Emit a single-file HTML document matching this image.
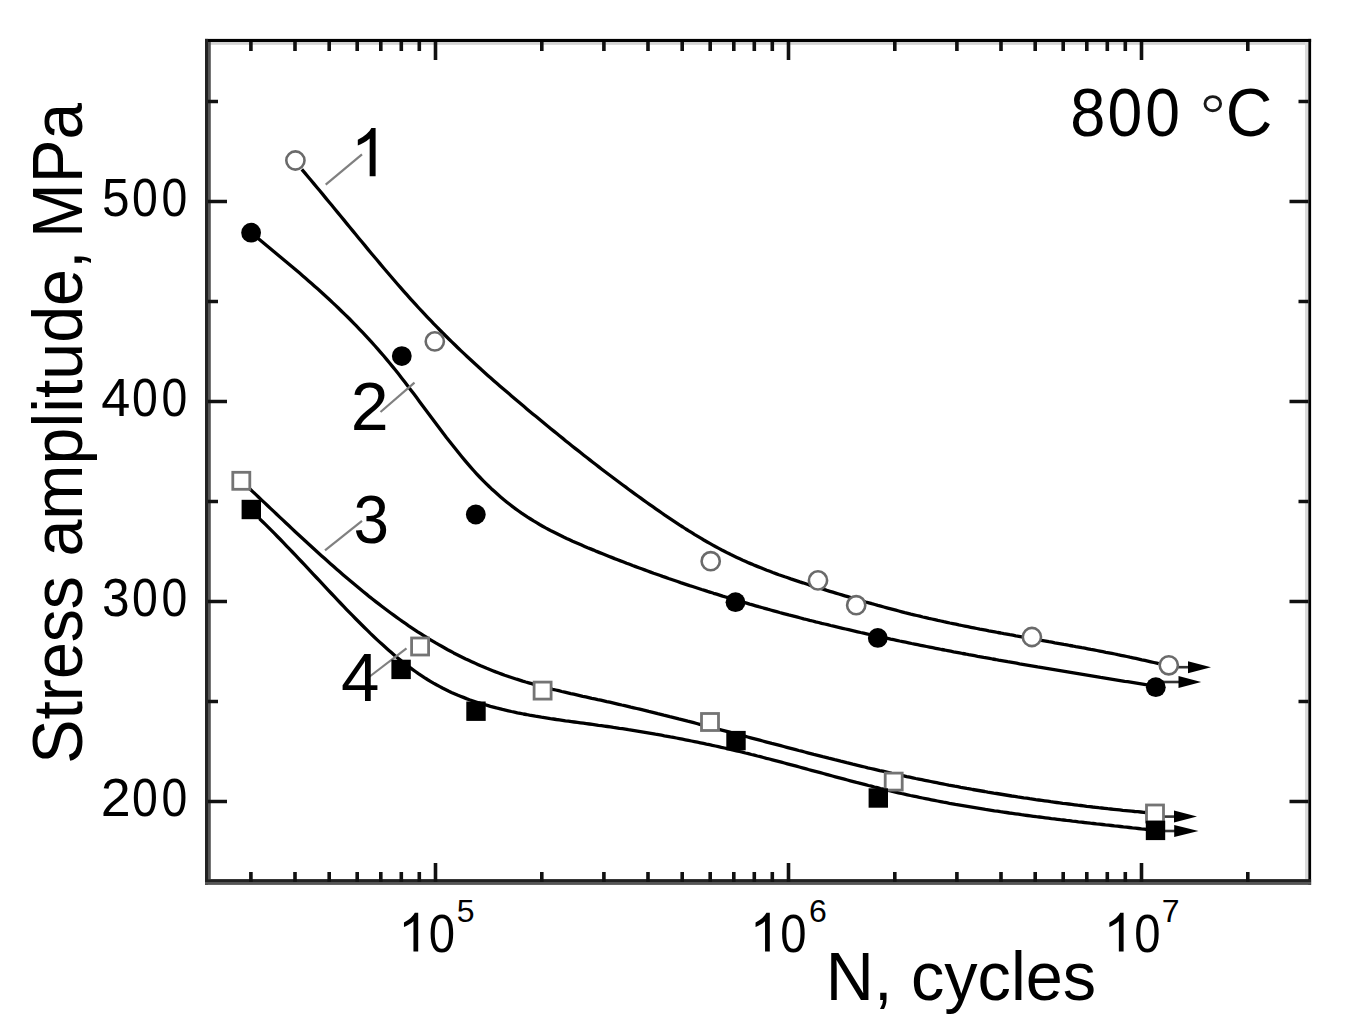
<!DOCTYPE html><html><head><meta charset="utf-8"><style>html,body{margin:0;padding:0;background:#fff;overflow:hidden;}svg{display:block;} text{font-family:"Liberation Sans",sans-serif;fill:#000;}</style></head><body>
<svg width="1358" height="1033" viewBox="0 0 1358 1033">
<rect width="1358" height="1033" fill="#fff"/>
<rect x="205" y="38.9" width="1106.1" height="3.1" fill="#000"/>
<rect x="208" y="42" width="1097.0" height="2.8" fill="#d2d2d2"/>
<rect x="205" y="38.9" width="3" height="846.0" fill="#222"/>
<rect x="208" y="42" width="2.8" height="837.1" fill="#555"/>
<rect x="1308.2" y="38.9" width="2.9" height="846.0" fill="#000"/>
<rect x="1305" y="42" width="3.2" height="837.1" fill="#dadada"/>
<rect x="205" y="879.1" width="1106.1" height="2.9" fill="#222"/>
<rect x="205" y="882" width="1106.1" height="2.9" fill="#555"/>
<path d="M208.0,801.5H227.0M1308.5,801.5H1289.5M208.0,701.5H218.0M1308.5,701.5H1298.5M208.0,601.5H227.0M1308.5,601.5H1289.5M208.0,501.5H218.0M1308.5,501.5H1298.5M208.0,401.5H227.0M1308.5,401.5H1289.5M208.0,301.5H218.0M1308.5,301.5H1298.5M208.0,201.5H227.0M1308.5,201.5H1289.5M208.0,101.5H218.0M1308.5,101.5H1298.5M250.9,882.0V872.0M250.9,42.0V51.0M295.0,882.0V872.0M295.0,42.0V51.0M329.2,882.0V872.0M329.2,42.0V51.0M357.2,882.0V872.0M357.2,42.0V51.0M380.8,882.0V872.0M380.8,42.0V51.0M401.3,882.0V872.0M401.3,42.0V51.0M419.3,882.0V872.0M419.3,42.0V51.0M435.5,882.0V863.0M435.5,42.0V60.0M541.8,882.0V872.0M541.8,42.0V51.0M603.9,882.0V872.0M603.9,42.0V51.0M648.0,882.0V872.0M648.0,42.0V51.0M682.2,882.0V872.0M682.2,42.0V51.0M710.2,882.0V872.0M710.2,42.0V51.0M733.8,882.0V872.0M733.8,42.0V51.0M754.3,882.0V872.0M754.3,42.0V51.0M772.3,882.0V872.0M772.3,42.0V51.0M788.5,882.0V863.0M788.5,42.0V60.0M894.8,882.0V872.0M894.8,42.0V51.0M956.9,882.0V872.0M956.9,42.0V51.0M1001.0,882.0V872.0M1001.0,42.0V51.0M1035.2,882.0V872.0M1035.2,42.0V51.0M1063.2,882.0V872.0M1063.2,42.0V51.0M1086.8,882.0V872.0M1086.8,42.0V51.0M1107.3,882.0V872.0M1107.3,42.0V51.0M1125.3,882.0V872.0M1125.3,42.0V51.0M1141.5,882.0V863.0M1141.5,42.0V60.0M1247.8,882.0V872.0M1247.8,42.0V51.0" stroke="#111" stroke-width="3.6" fill="none"/>
<path d="M301.8,169.4 L304.8,172.9 L307.8,176.5 L310.8,180.0 L313.8,183.6 L316.8,187.2 L319.8,190.8 L322.8,194.4 L325.8,198.1 L328.8,201.7 L331.8,205.3 L334.8,209.0 L337.8,212.6 L340.8,216.3 L343.8,219.9 L346.8,223.6 L349.8,227.2 L352.8,230.9 L355.8,234.5 L358.8,238.2 L361.8,241.8 L364.8,245.4 L367.8,249.1 L370.8,252.7 L373.8,256.3 L376.8,259.8 L379.8,263.4 L382.8,267.0 L385.8,270.5 L388.8,274.0 L391.8,277.5 L394.8,281.0 L397.8,284.5 L400.8,287.9 L403.8,291.3 L406.8,294.7 L409.8,298.1 L412.8,301.4 L415.8,304.7 L418.8,308.0 L421.8,311.2 L424.8,314.4 L427.8,317.6 L430.8,320.7 L433.8,323.9 L436.8,326.9 L439.8,330.0 L442.8,333.0 L445.8,336.0 L448.8,339.0 L451.8,341.9 L454.8,344.8 L457.8,347.7 L460.8,350.6 L463.8,353.4 L466.8,356.2 L469.8,359.0 L472.8,361.8 L475.8,364.5 L478.8,367.3 L481.8,370.0 L484.8,372.7 L487.8,375.4 L490.8,378.0 L493.8,380.7 L496.8,383.3 L499.8,385.9 L502.8,388.5 L505.8,391.1 L508.8,393.6 L511.8,396.2 L514.8,398.8 L517.8,401.3 L520.8,403.8 L523.8,406.3 L526.8,408.9 L529.8,411.4 L532.8,413.9 L535.8,416.3 L538.8,418.8 L541.8,421.3 L544.8,423.8 L547.8,426.2 L550.8,428.7 L553.8,431.1 L556.8,433.6 L559.8,436.0 L562.8,438.4 L565.8,440.9 L568.8,443.3 L571.8,445.7 L574.8,448.1 L577.8,450.4 L580.8,452.8 L583.8,455.2 L586.8,457.5 L589.8,459.9 L592.8,462.2 L595.8,464.5 L598.8,466.9 L601.8,469.2 L604.8,471.5 L607.8,473.8 L610.8,476.0 L613.8,478.3 L616.8,480.5 L619.8,482.8 L622.8,485.0 L625.8,487.2 L628.8,489.5 L631.8,491.7 L634.8,493.8 L637.8,496.0 L640.8,498.2 L643.8,500.3 L646.8,502.5 L649.8,504.6 L652.8,506.7 L655.8,508.8 L658.8,510.9 L661.8,513.0 L664.8,515.1 L667.8,517.1 L670.8,519.1 L673.8,521.1 L676.8,523.1 L679.8,525.1 L682.8,527.0 L685.8,529.0 L688.8,530.9 L691.8,532.7 L694.8,534.6 L697.8,536.4 L700.8,538.2 L703.8,540.0 L706.8,541.7 L709.8,543.4 L712.8,545.1 L715.8,546.8 L718.8,548.4 L721.8,550.0 L724.8,551.5 L727.8,553.1 L730.8,554.6 L733.8,556.0 L736.8,557.4 L739.8,558.8 L742.8,560.2 L745.8,561.5 L748.8,562.9 L751.8,564.1 L754.8,565.4 L757.8,566.6 L760.8,567.8 L763.8,569.0 L766.8,570.2 L769.8,571.3 L772.8,572.5 L775.8,573.6 L778.8,574.7 L781.8,575.7 L784.8,576.8 L787.8,577.8 L790.8,578.9 L793.8,579.9 L796.8,580.9 L799.8,581.9 L802.8,582.8 L805.8,583.8 L808.8,584.8 L811.8,585.7 L814.8,586.6 L817.8,587.6 L820.8,588.5 L823.8,589.4 L826.8,590.4 L829.8,591.3 L832.8,592.2 L835.8,593.1 L838.8,594.0 L841.8,594.9 L844.8,595.8 L847.8,596.7 L850.8,597.6 L853.8,598.5 L856.8,599.4 L859.8,600.2 L862.8,601.1 L865.8,602.0 L868.8,602.8 L871.8,603.7 L874.8,604.5 L877.8,605.4 L880.8,606.2 L883.8,607.0 L886.8,607.8 L889.8,608.6 L892.8,609.4 L895.8,610.2 L898.8,611.0 L901.8,611.8 L904.8,612.6 L907.8,613.3 L910.8,614.1 L913.8,614.8 L916.8,615.5 L919.8,616.2 L922.8,617.0 L925.8,617.7 L928.8,618.4 L931.8,619.0 L934.8,619.7 L937.8,620.4 L940.8,621.0 L943.8,621.7 L946.8,622.3 L949.8,623.0 L952.8,623.6 L955.8,624.2 L958.8,624.9 L961.8,625.5 L964.8,626.1 L967.8,626.7 L970.8,627.3 L973.8,627.9 L976.8,628.5 L979.8,629.1 L982.8,629.6 L985.8,630.2 L988.8,630.8 L991.8,631.3 L994.8,631.9 L997.8,632.5 L1000.8,633.0 L1003.8,633.6 L1006.8,634.1 L1009.8,634.7 L1012.8,635.2 L1015.8,635.8 L1018.8,636.3 L1021.8,636.8 L1024.8,637.4 L1027.8,637.9 L1030.8,638.5 L1033.8,639.0 L1036.8,639.5 L1039.8,640.1 L1042.8,640.6 L1045.8,641.1 L1048.8,641.7 L1051.8,642.2 L1054.8,642.8 L1057.8,643.3 L1060.8,643.8 L1063.8,644.4 L1066.8,644.9 L1069.8,645.5 L1072.8,646.0 L1075.8,646.6 L1078.8,647.1 L1081.8,647.7 L1084.8,648.2 L1087.8,648.8 L1090.8,649.4 L1093.8,649.9 L1096.8,650.5 L1099.8,651.1 L1102.8,651.7 L1105.8,652.3 L1108.8,652.8 L1111.8,653.4 L1114.8,654.0 L1117.8,654.7 L1120.8,655.3 L1123.8,655.9 L1126.8,656.5 L1129.8,657.2 L1132.8,657.8 L1135.8,658.4 L1138.8,659.1 L1141.8,659.8 L1144.8,660.4 L1147.8,661.1 L1150.8,661.8 L1153.8,662.5 L1156.8,663.2 L1158.7,663.6" fill="none" stroke="#000" stroke-width="3.3" stroke-linejoin="round"/>
<path d="M251.6,233.1 L254.6,235.6 L257.6,238.1 L260.6,240.6 L263.6,243.1 L266.6,245.5 L269.6,248.0 L272.6,250.5 L275.6,253.0 L278.6,255.5 L281.6,258.0 L284.6,260.5 L287.6,263.0 L290.6,265.5 L293.6,268.0 L296.6,270.6 L299.6,273.1 L302.6,275.7 L305.6,278.3 L308.6,280.9 L311.6,283.5 L314.6,286.2 L317.6,288.8 L320.6,291.5 L323.6,294.3 L326.6,297.0 L329.6,299.8 L332.6,302.6 L335.6,305.4 L338.6,308.3 L341.6,311.2 L344.6,314.1 L347.6,317.0 L350.6,320.0 L353.6,323.1 L356.6,326.2 L359.6,329.3 L362.6,332.4 L365.6,335.6 L368.6,338.9 L371.6,342.2 L374.6,345.5 L377.6,348.9 L380.6,352.3 L383.6,355.8 L386.6,359.4 L389.6,363.0 L392.6,366.6 L395.6,370.3 L398.6,374.1 L401.6,377.9 L404.6,381.8 L407.6,385.7 L410.6,389.7 L413.6,393.6 L416.6,397.6 L419.6,401.7 L422.6,405.7 L425.6,409.7 L428.6,413.8 L431.6,417.8 L434.6,421.8 L437.6,425.8 L440.6,429.8 L443.6,433.7 L446.6,437.7 L449.6,441.5 L452.6,445.3 L455.6,449.1 L458.6,452.8 L461.6,456.5 L464.6,460.1 L467.6,463.6 L470.6,467.1 L473.6,470.5 L476.6,473.8 L479.6,477.0 L482.6,480.1 L485.6,483.1 L488.6,486.0 L491.6,488.9 L494.6,491.6 L497.6,494.3 L500.6,496.9 L503.6,499.4 L506.6,501.9 L509.6,504.3 L512.6,506.6 L515.6,508.8 L518.6,511.0 L521.6,513.1 L524.6,515.1 L527.6,517.1 L530.6,519.0 L533.6,520.9 L536.6,522.7 L539.6,524.5 L542.6,526.2 L545.6,527.9 L548.6,529.5 L551.6,531.1 L554.6,532.6 L557.6,534.1 L560.6,535.6 L563.6,537.1 L566.6,538.5 L569.6,539.8 L572.6,541.2 L575.6,542.5 L578.6,543.8 L581.6,545.1 L584.6,546.4 L587.6,547.7 L590.6,548.9 L593.6,550.1 L596.6,551.4 L599.6,552.6 L602.6,553.8 L605.6,555.0 L608.6,556.2 L611.6,557.4 L614.6,558.6 L617.6,559.7 L620.6,560.9 L623.6,562.0 L626.6,563.2 L629.6,564.3 L632.6,565.5 L635.6,566.6 L638.6,567.7 L641.6,568.8 L644.6,569.9 L647.6,571.0 L650.6,572.1 L653.6,573.2 L656.6,574.2 L659.6,575.3 L662.6,576.4 L665.6,577.4 L668.6,578.5 L671.6,579.5 L674.6,580.5 L677.6,581.5 L680.6,582.6 L683.6,583.6 L686.6,584.6 L689.6,585.6 L692.6,586.5 L695.6,587.5 L698.6,588.5 L701.6,589.5 L704.6,590.4 L707.6,591.4 L710.6,592.3 L713.6,593.3 L716.6,594.2 L719.6,595.1 L722.6,596.1 L725.6,597.0 L728.6,597.9 L731.6,598.8 L734.6,599.7 L737.6,600.6 L740.6,601.5 L743.6,602.3 L746.6,603.2 L749.6,604.1 L752.6,604.9 L755.6,605.8 L758.6,606.7 L761.6,607.5 L764.6,608.3 L767.6,609.2 L770.6,610.0 L773.6,610.8 L776.6,611.6 L779.6,612.5 L782.6,613.3 L785.6,614.1 L788.6,614.9 L791.6,615.6 L794.6,616.4 L797.6,617.2 L800.6,618.0 L803.6,618.8 L806.6,619.5 L809.6,620.3 L812.6,621.0 L815.6,621.8 L818.6,622.5 L821.6,623.3 L824.6,624.0 L827.6,624.7 L830.6,625.5 L833.6,626.2 L836.6,626.9 L839.6,627.6 L842.6,628.3 L845.6,629.0 L848.6,629.7 L851.6,630.4 L854.6,631.1 L857.6,631.8 L860.6,632.5 L863.6,633.1 L866.6,633.8 L869.6,634.5 L872.6,635.2 L875.6,635.8 L878.6,636.5 L881.6,637.1 L884.6,637.8 L887.6,638.4 L890.6,639.1 L893.6,639.7 L896.6,640.3 L899.6,641.0 L902.6,641.6 L905.6,642.2 L908.6,642.8 L911.6,643.5 L914.6,644.1 L917.6,644.7 L920.6,645.3 L923.6,645.9 L926.6,646.5 L929.6,647.1 L932.6,647.7 L935.6,648.3 L938.6,648.9 L941.6,649.5 L944.6,650.0 L947.6,650.6 L950.6,651.2 L953.6,651.8 L956.6,652.3 L959.6,652.9 L962.6,653.5 L965.6,654.0 L968.6,654.6 L971.6,655.1 L974.6,655.7 L977.6,656.3 L980.6,656.8 L983.6,657.4 L986.6,657.9 L989.6,658.4 L992.6,659.0 L995.6,659.5 L998.6,660.1 L1001.6,660.6 L1004.6,661.1 L1007.6,661.7 L1010.6,662.2 L1013.6,662.7 L1016.6,663.2 L1019.6,663.8 L1022.6,664.3 L1025.6,664.8 L1028.6,665.3 L1031.6,665.8 L1034.6,666.3 L1037.6,666.9 L1040.6,667.4 L1043.6,667.9 L1046.6,668.4 L1049.6,668.9 L1052.6,669.4 L1055.6,669.9 L1058.6,670.4 L1061.6,670.9 L1064.6,671.4 L1067.6,671.9 L1070.6,672.4 L1073.6,672.9 L1076.6,673.4 L1079.6,673.9 L1082.6,674.4 L1085.6,674.9 L1088.6,675.4 L1091.6,675.9 L1094.6,676.4 L1097.6,676.9 L1100.6,677.4 L1103.6,677.8 L1106.6,678.3 L1109.6,678.8 L1112.6,679.3 L1115.6,679.8 L1118.6,680.3 L1121.6,680.8 L1124.6,681.3 L1127.6,681.7 L1130.6,682.2 L1133.6,682.7 L1136.6,683.2 L1139.6,683.7 L1142.6,684.2 L1145.6,684.7 L1148.6,685.2 L1151.6,685.6 L1154.6,686.1 L1155.0,686.2" fill="none" stroke="#000" stroke-width="3.3" stroke-linejoin="round"/>
<path d="M249.7,488.7 L252.7,491.6 L255.7,494.4 L258.7,497.3 L261.7,500.1 L264.7,502.9 L267.7,505.8 L270.7,508.6 L273.7,511.4 L276.7,514.3 L279.7,517.1 L282.7,519.9 L285.7,522.7 L288.7,525.5 L291.7,528.4 L294.7,531.2 L297.7,533.9 L300.7,536.7 L303.7,539.5 L306.7,542.3 L309.7,545.0 L312.7,547.8 L315.7,550.5 L318.7,553.2 L321.7,555.9 L324.7,558.6 L327.7,561.3 L330.7,563.9 L333.7,566.6 L336.7,569.2 L339.7,571.8 L342.7,574.4 L345.7,577.0 L348.7,579.5 L351.7,582.1 L354.7,584.6 L357.7,587.1 L360.7,589.6 L363.7,592.0 L366.7,594.4 L369.7,596.9 L372.7,599.2 L375.7,601.6 L378.7,603.9 L381.7,606.2 L384.7,608.5 L387.7,610.8 L390.7,613.0 L393.7,615.2 L396.7,617.4 L399.7,619.5 L402.7,621.7 L405.7,623.7 L408.7,625.8 L411.7,627.8 L414.7,629.8 L417.7,631.8 L420.7,633.7 L423.7,635.6 L426.7,637.5 L429.7,639.3 L432.7,641.1 L435.7,642.9 L438.7,644.6 L441.7,646.3 L444.7,648.0 L447.7,649.7 L450.7,651.3 L453.7,652.9 L456.7,654.4 L459.7,655.9 L462.7,657.4 L465.7,658.9 L468.7,660.3 L471.7,661.7 L474.7,663.1 L477.7,664.4 L480.7,665.8 L483.7,667.0 L486.7,668.3 L489.7,669.5 L492.7,670.7 L495.7,671.9 L498.7,673.0 L501.7,674.1 L504.7,675.2 L507.7,676.2 L510.7,677.2 L513.7,678.2 L516.7,679.2 L519.7,680.1 L522.7,681.1 L525.7,682.0 L528.7,682.8 L531.7,683.7 L534.7,684.6 L537.7,685.4 L540.7,686.2 L543.7,687.0 L546.7,687.8 L549.7,688.5 L552.7,689.3 L555.7,690.0 L558.7,690.7 L561.7,691.5 L564.7,692.2 L567.7,692.9 L570.7,693.6 L573.7,694.2 L576.7,694.9 L579.7,695.6 L582.7,696.3 L585.7,696.9 L588.7,697.6 L591.7,698.3 L594.7,698.9 L597.7,699.6 L600.7,700.2 L603.7,700.9 L606.7,701.6 L609.7,702.2 L612.7,702.9 L615.7,703.6 L618.7,704.3 L621.7,705.0 L624.7,705.6 L627.7,706.3 L630.7,707.1 L633.7,707.8 L636.7,708.5 L639.7,709.2 L642.7,709.9 L645.7,710.6 L648.7,711.4 L651.7,712.1 L654.7,712.8 L657.7,713.6 L660.7,714.3 L663.7,715.1 L666.7,715.8 L669.7,716.6 L672.7,717.3 L675.7,718.1 L678.7,718.9 L681.7,719.6 L684.7,720.4 L687.7,721.2 L690.7,721.9 L693.7,722.7 L696.7,723.5 L699.7,724.3 L702.7,725.1 L705.7,725.9 L708.7,726.6 L711.7,727.4 L714.7,728.2 L717.7,729.0 L720.7,729.8 L723.7,730.6 L726.7,731.4 L729.7,732.2 L732.7,733.0 L735.7,733.8 L738.7,734.6 L741.7,735.4 L744.7,736.2 L747.7,737.0 L750.7,737.8 L753.7,738.6 L756.7,739.4 L759.7,740.2 L762.7,741.0 L765.7,741.8 L768.7,742.6 L771.7,743.4 L774.7,744.1 L777.7,744.9 L780.7,745.7 L783.7,746.5 L786.7,747.3 L789.7,748.1 L792.7,748.9 L795.7,749.7 L798.7,750.5 L801.7,751.2 L804.7,752.0 L807.7,752.8 L810.7,753.6 L813.7,754.4 L816.7,755.1 L819.7,755.9 L822.7,756.7 L825.7,757.4 L828.7,758.2 L831.7,758.9 L834.7,759.7 L837.7,760.4 L840.7,761.2 L843.7,761.9 L846.7,762.7 L849.7,763.4 L852.7,764.2 L855.7,764.9 L858.7,765.6 L861.7,766.3 L864.7,767.0 L867.7,767.8 L870.7,768.5 L873.7,769.2 L876.7,769.9 L879.7,770.6 L882.7,771.2 L885.7,771.9 L888.7,772.6 L891.7,773.3 L894.7,773.9 L897.7,774.6 L900.7,775.3 L903.7,775.9 L906.7,776.6 L909.7,777.2 L912.7,777.8 L915.7,778.5 L918.7,779.1 L921.7,779.7 L924.7,780.3 L927.7,780.9 L930.7,781.5 L933.7,782.1 L936.7,782.7 L939.7,783.3 L942.7,783.9 L945.7,784.5 L948.7,785.1 L951.7,785.6 L954.7,786.2 L957.7,786.7 L960.7,787.3 L963.7,787.8 L966.7,788.4 L969.7,788.9 L972.7,789.5 L975.7,790.0 L978.7,790.5 L981.7,791.0 L984.7,791.5 L987.7,792.1 L990.7,792.6 L993.7,793.1 L996.7,793.5 L999.7,794.0 L1002.7,794.5 L1005.7,795.0 L1008.7,795.5 L1011.7,796.0 L1014.7,796.4 L1017.7,796.9 L1020.7,797.3 L1023.7,797.8 L1026.7,798.2 L1029.7,798.7 L1032.7,799.1 L1035.7,799.6 L1038.7,800.0 L1041.7,800.4 L1044.7,800.8 L1047.7,801.2 L1050.7,801.7 L1053.7,802.1 L1056.7,802.5 L1059.7,802.9 L1062.7,803.3 L1065.7,803.6 L1068.7,804.0 L1071.7,804.4 L1074.7,804.8 L1077.7,805.2 L1080.7,805.5 L1083.7,805.9 L1086.7,806.3 L1089.7,806.6 L1092.7,807.0 L1095.7,807.3 L1098.7,807.7 L1101.7,808.0 L1104.7,808.3 L1107.7,808.7 L1110.7,809.0 L1113.7,809.3 L1116.7,809.6 L1119.7,809.9 L1122.7,810.3 L1125.7,810.6 L1128.7,810.9 L1131.7,811.2 L1134.7,811.5 L1137.7,811.7 L1140.7,812.0 L1143.7,812.3 L1145.9,812.5" fill="none" stroke="#000" stroke-width="3.3" stroke-linejoin="round"/>
<path d="M259.4,518.6 L262.4,521.5 L265.4,524.4 L268.4,527.4 L271.4,530.4 L274.4,533.4 L277.4,536.5 L280.4,539.5 L283.4,542.6 L286.4,545.8 L289.4,548.9 L292.4,552.0 L295.4,555.2 L298.4,558.4 L301.4,561.5 L304.4,564.7 L307.4,567.9 L310.4,571.1 L313.4,574.3 L316.4,577.5 L319.4,580.7 L322.4,583.9 L325.4,587.1 L328.4,590.3 L331.4,593.5 L334.4,596.7 L337.4,599.9 L340.4,603.0 L343.4,606.1 L346.4,609.3 L349.4,612.4 L352.4,615.4 L355.4,618.5 L358.4,621.5 L361.4,624.5 L364.4,627.5 L367.4,630.4 L370.4,633.4 L373.4,636.2 L376.4,639.1 L379.4,641.9 L382.4,644.6 L385.4,647.3 L388.4,650.0 L391.4,652.6 L394.4,655.2 L397.4,657.7 L400.4,660.1 L403.4,662.5 L406.4,664.9 L409.4,667.1 L412.4,669.3 L415.4,671.5 L418.4,673.6 L421.4,675.6 L424.4,677.6 L427.4,679.5 L430.4,681.3 L433.4,683.1 L436.4,684.8 L439.4,686.4 L442.4,688.0 L445.4,689.5 L448.4,691.0 L451.4,692.4 L454.4,693.7 L457.4,695.0 L460.4,696.2 L463.4,697.4 L466.4,698.6 L469.4,699.7 L472.4,700.7 L475.4,701.7 L478.4,702.7 L481.4,703.6 L484.4,704.5 L487.4,705.4 L490.4,706.3 L493.4,707.1 L496.4,707.9 L499.4,708.6 L502.4,709.4 L505.4,710.1 L508.4,710.8 L511.4,711.5 L514.4,712.1 L517.4,712.8 L520.4,713.4 L523.4,714.0 L526.4,714.5 L529.4,715.1 L532.4,715.6 L535.4,716.2 L538.4,716.7 L541.4,717.2 L544.4,717.6 L547.4,718.1 L550.4,718.6 L553.4,719.0 L556.4,719.5 L559.4,719.9 L562.4,720.3 L565.4,720.8 L568.4,721.2 L571.4,721.6 L574.4,722.0 L577.4,722.4 L580.4,722.8 L583.4,723.2 L586.4,723.6 L589.4,724.0 L592.4,724.4 L595.4,724.8 L598.4,725.3 L601.4,725.7 L604.4,726.1 L607.4,726.5 L610.4,726.9 L613.4,727.4 L616.4,727.8 L619.4,728.3 L622.4,728.7 L625.4,729.2 L628.4,729.7 L631.4,730.1 L634.4,730.6 L637.4,731.1 L640.4,731.6 L643.4,732.1 L646.4,732.6 L649.4,733.1 L652.4,733.6 L655.4,734.2 L658.4,734.7 L661.4,735.2 L664.4,735.8 L667.4,736.3 L670.4,736.9 L673.4,737.4 L676.4,738.0 L679.4,738.6 L682.4,739.2 L685.4,739.8 L688.4,740.4 L691.4,741.0 L694.4,741.6 L697.4,742.2 L700.4,742.8 L703.4,743.4 L706.4,744.1 L709.4,744.7 L712.4,745.4 L715.4,746.0 L718.4,746.7 L721.4,747.4 L724.4,748.0 L727.4,748.7 L730.4,749.4 L733.4,750.1 L736.4,750.8 L739.4,751.5 L742.4,752.2 L745.4,753.0 L748.4,753.7 L751.4,754.5 L754.4,755.2 L757.4,756.0 L760.4,756.7 L763.4,757.5 L766.4,758.3 L769.4,759.0 L772.4,759.8 L775.4,760.6 L778.4,761.4 L781.4,762.2 L784.4,763.0 L787.4,763.8 L790.4,764.6 L793.4,765.4 L796.4,766.2 L799.4,767.0 L802.4,767.8 L805.4,768.6 L808.4,769.5 L811.4,770.3 L814.4,771.1 L817.4,771.9 L820.4,772.7 L823.4,773.5 L826.4,774.3 L829.4,775.2 L832.4,776.0 L835.4,776.8 L838.4,777.6 L841.4,778.4 L844.4,779.2 L847.4,780.0 L850.4,780.8 L853.4,781.6 L856.4,782.4 L859.4,783.1 L862.4,783.9 L865.4,784.7 L868.4,785.5 L871.4,786.2 L874.4,787.0 L877.4,787.7 L880.4,788.5 L883.4,789.2 L886.4,789.9 L889.4,790.7 L892.4,791.4 L895.4,792.1 L898.4,792.8 L901.4,793.5 L904.4,794.1 L907.4,794.8 L910.4,795.5 L913.4,796.1 L916.4,796.7 L919.4,797.4 L922.4,798.0 L925.4,798.6 L928.4,799.2 L931.4,799.8 L934.4,800.4 L937.4,801.0 L940.4,801.6 L943.4,802.2 L946.4,802.7 L949.4,803.3 L952.4,803.8 L955.4,804.4 L958.4,804.9 L961.4,805.4 L964.4,805.9 L967.4,806.4 L970.4,806.9 L973.4,807.4 L976.4,807.9 L979.4,808.4 L982.4,808.9 L985.4,809.4 L988.4,809.8 L991.4,810.3 L994.4,810.8 L997.4,811.2 L1000.4,811.7 L1003.4,812.1 L1006.4,812.5 L1009.4,813.0 L1012.4,813.4 L1015.4,813.8 L1018.4,814.2 L1021.4,814.7 L1024.4,815.1 L1027.4,815.5 L1030.4,815.9 L1033.4,816.3 L1036.4,816.7 L1039.4,817.0 L1042.4,817.4 L1045.4,817.8 L1048.4,818.2 L1051.4,818.6 L1054.4,818.9 L1057.4,819.3 L1060.4,819.7 L1063.4,820.0 L1066.4,820.4 L1069.4,820.7 L1072.4,821.1 L1075.4,821.4 L1078.4,821.8 L1081.4,822.1 L1084.4,822.5 L1087.4,822.8 L1090.4,823.2 L1093.4,823.5 L1096.4,823.9 L1099.4,824.2 L1102.4,824.5 L1105.4,824.9 L1108.4,825.2 L1111.4,825.5 L1114.4,825.9 L1117.4,826.2 L1120.4,826.5 L1123.4,826.9 L1126.4,827.2 L1129.4,827.5 L1132.4,827.9 L1135.4,828.2 L1138.4,828.5 L1141.4,828.9 L1144.4,829.2 L1147.4,829.5 L1150.0,829.8" fill="none" stroke="#000" stroke-width="3.3" stroke-linejoin="round"/>
<path d="M1168.8,667.2H1190.0" stroke="#333" stroke-width="2.6"/>
<path d="M1211.0,667.2L1188.0,661.2L1188.0,673.2Z" fill="#000"/>
<path d="M1155.8,682.0H1180.5" stroke="#333" stroke-width="2.6"/>
<path d="M1201.2,682.0L1178.5,676.0L1178.5,688.0Z" fill="#000"/>
<path d="M1155.0,816.6H1176.0" stroke="#333" stroke-width="2.6"/>
<path d="M1197.0,816.6L1174.0,810.6L1174.0,822.6Z" fill="#000"/>
<path d="M1155.5,831.0H1176.2" stroke="#333" stroke-width="2.6"/>
<path d="M1198.5,831.0L1174.2,825.0L1174.2,837.0Z" fill="#000"/>
<path d="M325.7,184.7L362.0,154.3" stroke="#808080" stroke-width="2.2"/>
<path d="M380.5,412.0L414.5,382.7" stroke="#808080" stroke-width="2.2"/>
<path d="M325.0,550.3L362.0,520.8" stroke="#808080" stroke-width="2.2"/>
<path d="M369.7,676.5L406.5,648.4" stroke="#808080" stroke-width="2.2"/>
<circle cx="295.4" cy="160.5" r="9.1" fill="#fff" stroke="#6a6a6a" stroke-width="2.6"/>
<circle cx="434.8" cy="341.4" r="9.1" fill="#fff" stroke="#6a6a6a" stroke-width="2.6"/>
<circle cx="710.7" cy="561.2" r="9.1" fill="#fff" stroke="#6a6a6a" stroke-width="2.6"/>
<circle cx="818.0" cy="580.4" r="9.1" fill="#fff" stroke="#6a6a6a" stroke-width="2.6"/>
<circle cx="856.2" cy="605.2" r="9.1" fill="#fff" stroke="#6a6a6a" stroke-width="2.6"/>
<circle cx="1031.9" cy="637.0" r="9.1" fill="#fff" stroke="#6a6a6a" stroke-width="2.6"/>
<circle cx="1168.8" cy="665.3" r="9.1" fill="#fff" stroke="#6a6a6a" stroke-width="2.6"/>
<circle cx="251.1" cy="232.7" r="9.9" fill="#000"/>
<circle cx="401.8" cy="356.1" r="9.9" fill="#000"/>
<circle cx="475.8" cy="514.5" r="9.9" fill="#000"/>
<circle cx="735.5" cy="602.2" r="9.9" fill="#000"/>
<circle cx="877.8" cy="637.9" r="9.9" fill="#000"/>
<circle cx="1155.8" cy="687.2" r="9.9" fill="#000"/>
<rect x="232.8" y="472.3" width="17" height="17" fill="#fff" stroke="#747474" stroke-width="2.8"/>
<rect x="411.6" y="638.0" width="17" height="17" fill="#fff" stroke="#747474" stroke-width="2.8"/>
<rect x="534.1" y="682.1" width="17" height="17" fill="#fff" stroke="#747474" stroke-width="2.8"/>
<rect x="701.5" y="713.5" width="17" height="17" fill="#fff" stroke="#747474" stroke-width="2.8"/>
<rect x="885.2" y="773.1" width="17" height="17" fill="#fff" stroke="#747474" stroke-width="2.8"/>
<rect x="1146.5" y="805.0" width="17" height="17" fill="#fff" stroke="#747474" stroke-width="2.8"/>
<rect x="241.6" y="499.8" width="19.4" height="19.4" fill="#000"/>
<rect x="391.4" y="659.7" width="19.4" height="19.4" fill="#000"/>
<rect x="466.3" y="701.5" width="19.4" height="19.4" fill="#000"/>
<rect x="726.3" y="730.9" width="19.4" height="19.4" fill="#000"/>
<rect x="868.6" y="788.3" width="19.4" height="19.4" fill="#000"/>
<rect x="1145.8" y="820.7" width="19.4" height="19.4" fill="#000"/>
<text transform="translate(115.60,216.30) scale(0.930,1)" x="-14.77" font-size="53.30">5</text>
<text transform="translate(144.90,216.30) scale(0.870,1)" x="-14.82" font-size="53.30">0</text>
<text transform="translate(174.50,216.30) scale(0.870,1)" x="-14.82" font-size="53.30">0</text>
<text transform="translate(115.60,416.30) scale(0.980,1)" x="-14.65" font-size="53.30">4</text>
<text transform="translate(144.90,416.30) scale(0.870,1)" x="-14.82" font-size="53.30">0</text>
<text transform="translate(174.50,416.30) scale(0.870,1)" x="-14.82" font-size="53.30">0</text>
<text transform="translate(115.60,616.30) scale(0.930,1)" x="-14.67" font-size="53.30">3</text>
<text transform="translate(144.90,616.30) scale(0.870,1)" x="-14.82" font-size="53.30">0</text>
<text transform="translate(174.50,616.30) scale(0.870,1)" x="-14.82" font-size="53.30">0</text>
<text transform="translate(115.60,816.30) scale(1.010,1)" x="-14.82" font-size="53.30">2</text>
<text transform="translate(144.90,816.30) scale(0.870,1)" x="-14.82" font-size="53.30">0</text>
<text transform="translate(174.50,816.30) scale(0.870,1)" x="-14.82" font-size="53.30">0</text>
<path d="M418.20,951.50L413.45,951.50L413.45,921.26Q411.74,922.89 408.97,924.53Q406.20,926.16 403.96,926.98L403.96,922.39Q407.81,920.57 410.71,917.99Q413.61,915.40 414.82,912.85L418.20,912.85Z" fill="#000"/>
<text transform="translate(441.90,951.50) scale(0.875,1)" x="-15.02" font-size="54.00">0</text>
<text transform="translate(465.60,922.40) scale(1.000,1)" x="-8.87" font-size="32.00">5</text>
<path d="M769.80,951.50L765.05,951.50L765.05,921.26Q763.34,922.89 760.57,924.53Q757.80,926.16 755.56,926.98L755.56,922.39Q759.41,920.57 762.31,917.99Q765.21,915.40 766.42,912.85L769.80,912.85Z" fill="#000"/>
<text transform="translate(793.40,951.50) scale(0.875,1)" x="-15.02" font-size="54.00">0</text>
<text transform="translate(817.90,922.40) scale(1.000,1)" x="-9.01" font-size="32.00">6</text>
<path d="M1123.60,951.50L1118.85,951.50L1118.85,921.26Q1117.14,922.89 1114.37,924.53Q1111.60,926.16 1109.36,926.98L1109.36,922.39Q1113.21,920.57 1116.11,917.99Q1119.01,915.40 1120.22,912.85L1123.60,912.85Z" fill="#000"/>
<text transform="translate(1147.30,951.50) scale(0.875,1)" x="-15.02" font-size="54.00">0</text>
<text transform="translate(1170.70,922.40) scale(1.000,1)" x="-8.91" font-size="32.00">7</text>
<text x="825.8" y="999.6" font-size="68.3" textLength="270.3" lengthAdjust="spacingAndGlyphs">N, cycles</text>
<text transform="translate(81.9,763.8) rotate(-90)" font-size="69.5" textLength="187.8" lengthAdjust="spacingAndGlyphs">Stress</text>
<text transform="translate(81.9,556.6) rotate(-90)" font-size="69.5" textLength="306.0" lengthAdjust="spacingAndGlyphs">amplitude,</text>
<text transform="translate(81.9,238.0) rotate(-90)" font-size="69.5" textLength="135.1" lengthAdjust="spacingAndGlyphs">MPa</text>
<text transform="translate(1087.80,135.90) scale(0.910,1)" x="-19.30" font-size="69.40">8</text>
<text transform="translate(1124.90,135.90) scale(0.900,1)" x="-19.30" font-size="69.40">0</text>
<text transform="translate(1162.70,135.90) scale(0.900,1)" x="-19.30" font-size="69.40">0</text>
<ellipse cx="1212.8" cy="103.7" rx="7.8" ry="7.1" fill="none" stroke="#1a1a1a" stroke-width="2.9"/>
<text transform="translate(1249.50,135.90) scale(0.930,1)" x="-25.50" font-size="69.40">C</text>
<path d="M375.60,176.20L369.67,176.20L369.67,138.40Q367.53,140.44 364.06,142.48Q360.60,144.53 357.80,145.55L357.80,139.81Q362.61,137.54 366.24,134.31Q369.87,131.08 371.38,127.88L375.60,127.88Z" fill="#000"/>
<text transform="translate(369.80,430.40) scale(1.005,1)" x="-18.85" font-size="67.80">2</text>
<text transform="translate(371.10,543.20) scale(0.940,1)" x="-18.65" font-size="67.80">3</text>
<text transform="translate(360.00,700.50) scale(1.020,1)" x="-18.64" font-size="67.80">4</text>
</svg></body></html>
